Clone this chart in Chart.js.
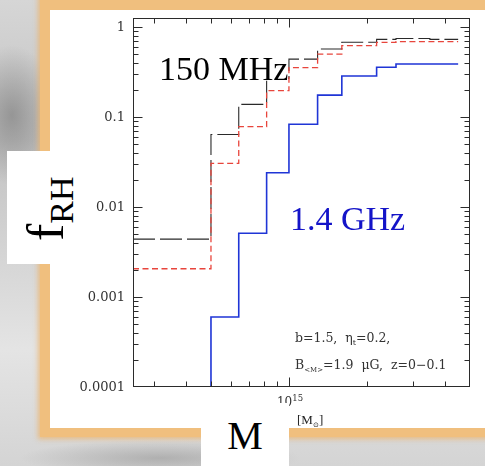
<!DOCTYPE html>
<html>
<head>
<meta charset="utf-8">
<script src="https://cdn.jsdelivr.net/npm/chart.js@4.4.1/dist/chart.umd.min.js"></script>
<style>
  html, body { margin: 0; padding: 0; }
  body {
    width: 485px; height: 466px; overflow: hidden; position: relative;
    background:
      radial-gradient(ellipse 45px 70px at 12px 115px, rgba(110,110,110,0.55), rgba(110,110,110,0) 100%),
      radial-gradient(ellipse 140px 18px at 160px 458px, rgba(130,130,130,0.45), rgba(130,130,130,0)),
      linear-gradient(180deg, #d6d6d6 0%, #c2c2c2 30%, #e4e4e4 75%, #d4d4d4 100%);
  }
  #frame {
    position: absolute; left: 40px; top: -10px; width: 470px; height: 447px;
    background: #f0bf7e; box-shadow: 0 0 5px 2px rgba(235, 180, 110, 0.8);
  }
  #panel { position: absolute; left: 50px; top: 10px; width: 460px; height: 418px; background: #fff; }
  #chart { position: absolute; left: 0; top: 0; z-index: 1; }
  .box { position: absolute; background: #fff; z-index: 2; font-family: 'Liberation Serif', serif; color: #000; }
  #yTitle { left: 7px; top: 151px; width: 76px; height: 113px; }
  #yTitle .rot {
    position: absolute; left: 12.5px; top: 90px; white-space: nowrap;
    transform: rotate(-90deg); transform-origin: 0 0;
    font-size: 52px; line-height: 52px;
  }
  #yTitle .sub { font-size: 34px; vertical-align: -10px; line-height: 0; }
  #xTitle {
    left: 201px; top: 403px; width: 88px; height: 63px; box-sizing: border-box;
    padding-top: 12.5px; text-align: center; font-size: 40px; line-height: 40px;
  }
</style>
</head>
<body>
<div id="frame"></div>
<div id="panel"></div>
<canvas id="chart" width="485" height="466"></canvas>
<div class="box" id="yTitle"><div class="rot">f<span class="sub">RH</span></div></div>
<div class="box" id="xTitle">M</div>

<script>
// bin edges in cluster mass [M_sun]; last entry closes the final bin
const massEdges = [2.5e14, 5.0e14, 6.4e14, 8.2e14, 1.0e15, 1.29e15, 1.6e15, 2.18e15, 2.59e15, 3.5e15, 4.5e15];

// fraction of clusters with radio halos, one value per bin (last repeated for the closing edge)
const frac150Black = [0.0044, 0.064, 0.138, 0.27, 0.44, 0.57, 0.676, 0.728, 0.746, 0.728, 0.728];
const frac150Red   = [0.00206, 0.0305, 0.078, 0.196, 0.353, 0.50, 0.62, 0.676, 0.687, 0.687, 0.687];
// first bin is empty at 1.4 GHz: value below the axis so the step rises from the bottom
const frac1400     = [1e-5, 0.0006, 0.0051, 0.024, 0.083, 0.175, 0.286, 0.357, 0.388, 0.388, 0.388];

const yTickValues = [1e-4, 1e-3, 1e-2, 1e-1, 1];
const yTickLabels = ['0.0001', '0.001', '0.01', '0.1', '1'];
const xTickValues = [1e15];
const xTickLabels = [['10', '15']];

function toPoints(vals) {
    return massEdges.map((m, i) => ({ x: m, y: vals[i] }));
}

// draws a row of text pieces, each with its own size and vertical offset
function drawRuns(ctx, x, y, runs, family) {
    runs.forEach(r => {
        ctx.font = r.size + 'px ' + family;
        ctx.fillText(r.t, x, y + (r.dy || 0));
        x += ctx.measureText(r.t).width + (r.gap || 0);
    });
}

const frameAndLabels = {
    id: 'frameAndLabels',
    afterDatasetsDraw(chart) {
        const ctx = chart.ctx;
        const a = chart.chartArea;
        const xs = chart.scales.x, ys = chart.scales.y;
        ctx.save();

        // label "150 MHz" sits on an opaque patch that hides the lines below it
        ctx.fillStyle = '#fff';
        ctx.fillRect(157, 49, 131, 31);
        ctx.fillStyle = '#000';
        ctx.font = '34px "Liberation Serif", serif';
        ctx.textBaseline = 'alphabetic';
        ctx.fillText('150 MHz', 159, 80);

        ctx.fillStyle = '#1414c8';
        ctx.fillText('1.4 GHz', 290, 230);

        // frame
        ctx.strokeStyle = '#2b2b2b';
        ctx.lineWidth = 1;
        const L = Math.round(a.left) + 0.5, R = Math.round(a.right) - 0.5;
        const T = Math.round(a.top) + 0.5, B = Math.round(a.bottom) - 0.5;
        ctx.strokeRect(L, T, R - L, B - T);

        // inward ticks on all four sides
        ctx.beginPath();
        for (let e = -5; e <= 0; e++) {
            for (let m = 1; m <= 9; m++) {
                const v = m * Math.pow(10, e);
                if (v <= ys.min || v >= ys.max) continue;
                const p = Math.round(ys.getPixelForValue(v)) + 0.5;
                const len = m === 1 ? 9 : 5;
                ctx.moveTo(L, p); ctx.lineTo(L + len, p);
                ctx.moveTo(R, p); ctx.lineTo(R - len, p);
            }
        }
        for (let e = 13; e <= 16; e++) {
            for (let m = 1; m <= 9; m++) {
                const v = m * Math.pow(10, e);
                if (v <= xs.min || v >= xs.max) continue;
                const p = Math.round(xs.getPixelForValue(v)) + 0.5;
                const len = m === 1 ? 9 : 5;
                ctx.moveTo(p, B); ctx.lineTo(p, B - len);
                ctx.moveTo(p, T); ctx.lineTo(p, T + len);
            }
        }
        ctx.stroke();

        // tick labels
        ctx.fillStyle = '#333';
        ctx.font = '13px "DejaVu Serif", serif';
        ctx.textAlign = 'right';
        ctx.textBaseline = 'middle';
        yTickValues.forEach((v, i) => {
            ctx.fillText(yTickLabels[i], 125, ys.getPixelForValue(v) + 1);
        });
        ctx.textAlign = 'left';
        ctx.textBaseline = 'alphabetic';
        xTickValues.forEach((v, i) => {
            const p = xs.getPixelForValue(v);
            drawRuns(ctx, p - 12, 406, [
                { t: xTickLabels[i][0], size: 12 },
                { t: xTickLabels[i][1], size: 8.5, dy: -5 }
            ], '"DejaVu Serif", serif');
        });

        // unit under the axis
        ctx.fillStyle = '#222';
        drawRuns(ctx, 297, 424, [
            { t: '[M', size: 13 },
            { t: '\u2299', size: 7, dy: 3 },
            { t: ']', size: 13 }
        ], '"Liberation Serif", serif');

        // model parameters
        ctx.fillStyle = '#333';
        drawRuns(ctx, 295, 342, [
            { t: 'b=1.5,  \u03b7', size: 12.5 },
            { t: 't', size: 8, dy: 3 },
            { t: '=0.2,', size: 12.5 }
        ], '"DejaVu Serif", serif');
        drawRuns(ctx, 295, 369, [
            { t: 'B', size: 12.5 },
            { t: '<M>', size: 7, dy: 3 },
            { t: '=1.9  \u03bcG,  z=0\u22120.1', size: 12.5 }
        ], '"DejaVu Serif", serif');

        ctx.restore();
    }
};

new Chart(document.getElementById('chart'), {
    type: 'line',
    data: {
        datasets: [
            {
                label: '150 MHz (b)',
                data: toPoints(frac150Red),
                borderColor: '#e8453c',
                borderWidth: 1.3,
                borderDash: [6, 3.5],
                stepped: 'before',
                pointRadius: 0,
                fill: false
            },
            {
                label: '150 MHz (a)',
                data: toPoints(frac150Black),
                borderColor: '#2a2a2a',
                borderWidth: 1.1,
                borderDash: [22, 5],
                stepped: 'before',
                pointRadius: 0,
                fill: false
            },
            {
                label: '1.4 GHz',
                data: toPoints(frac1400),
                borderColor: '#1f35d6',
                borderWidth: 1.6,
                stepped: 'before',
                pointRadius: 0,
                fill: false
            }
        ]
    },
    options: {
        responsive: false,
        animation: false,
        events: [],
        layout: { padding: { left: 133, right: 15, top: 18, bottom: 79 } },
        plugins: {
            legend: { display: false },
            tooltip: { enabled: false }
        },
        scales: {
            x: { type: 'logarithmic', min: 2.5e14, max: 5e15, bounds: 'data', display: false },
            y: { type: 'logarithmic', min: 1e-4, max: 1.259, bounds: 'data', display: false }
        }
    },
    plugins: [frameAndLabels]
});
</script>
</body>
</html>
